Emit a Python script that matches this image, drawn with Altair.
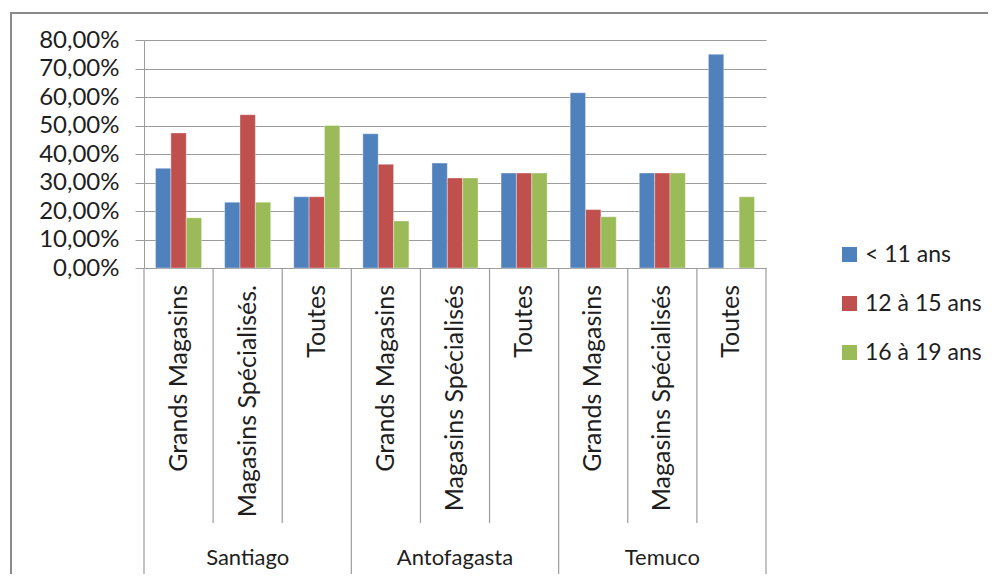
import altair as alt
import pandas as pd

groups = ["Santiago", "Antofagasta", "Temuco"]
subs = [
    ["Grands Magasins", "Magasins Spécialisés.", "Toutes"],
    ["Grands Magasins", "Magasins Spécialisés", "Toutes"],
    ["Grands Magasins", "Magasins Spécialisés", "Toutes"],
]
series = ["< 11 ans", "12 à 15 ans", "16 à 19 ans"]
under_11 = [35.0, 23.1, 25.0, 47.1, 36.8, 33.33, 61.5, 33.33, 75.0]
age_12_15 = [47.4, 53.8, 25.0, 36.4, 31.6, 33.33, 20.5, 33.33, 0.0]
age_16_19 = [17.6, 23.1, 50.0, 16.5, 31.6, 33.33, 18.0, 33.33, 25.0]
colors = ["#4F81BD", "#C0504D", "#9BBB59"]
y_ticks = [0, 10, 20, 30, 40, 50, 60, 70, 80]

FONT = "Lato"
GRAY = "#9c9c9c"
TXT = "#1e1e1e"

keys, sub_list, grp_list, pos_list = [], [], [], []
for gi, g in enumerate(groups):
    for si, s in enumerate(subs[gi]):
        keys.append(f"{gi}{si}")
        sub_list.append(s)
        grp_list.append(g)
        pos_list.append(si)

rows = []
for name, vals in zip(series, [under_11, age_12_15, age_16_19]):
    for k, v in zip(keys, vals):
        rows.append({"key": k, "series": name, "value": v})
bars_df = pd.DataFrame(rows)
cats_df = pd.DataFrame({"key": keys, "sub": sub_list, "grp": grp_list, "pos": pos_list})

xscale = alt.Scale(domain=keys, paddingInner=0, paddingOuter=0)

bars = alt.Chart(bars_df).mark_bar(stroke="#ffffff", strokeOpacity=0.45, strokeWidth=0.8).encode(
    x=alt.X("key:N", scale=xscale, axis=None),
    xOffset=alt.XOffset("series:N", sort=series,
                        scale=alt.Scale(domain=series, paddingOuter=0.75, paddingInner=0)),
    y=alt.Y("value:Q", scale=alt.Scale(domain=[0, 80], nice=False),
            axis=alt.Axis(values=y_ticks, title=None,
                          labelExpr="replace(format(datum.value, '.2f'), '.', ',') + '%'",
                          labelFont=FONT, labelFontSize=24, labelColor=TXT,
                          labelPadding=16, tickSize=9, tickColor=GRAY, domainColor=GRAY,
                          gridColor=GRAY, gridWidth=1.2)),
    color=alt.Color("series:N", sort=series,
                    scale=alt.Scale(domain=series, range=colors),
                    legend=alt.Legend(title=None, orient="none", legendX=694, legendY=203,
                                      symbolType="square", symbolSize=225, symbolStrokeWidth=0,
                                      labelFont=FONT, labelFontSize=23, labelColor=TXT,
                                      rowPadding=25, labelOffset=4)),
)

inner_rules = alt.Chart(cats_df).transform_filter("datum.pos > 0").mark_rule(
    color=GRAY, strokeWidth=1.2).encode(
    x=alt.X("key:N", scale=xscale, bandPosition=0),
    y=alt.value(228), y2=alt.value(483))

group_rules = alt.Chart(cats_df).transform_filter("datum.pos == 0").mark_rule(
    color=GRAY, strokeWidth=1.2).encode(
    x=alt.X("key:N", scale=xscale, bandPosition=0),
    y=alt.value(228), y2=alt.value(537))

end_rule = alt.Chart(cats_df).transform_filter(f"datum.key == '{keys[-1]}'").mark_rule(
    color=GRAY, strokeWidth=1.2).encode(
    x=alt.X("key:N", scale=xscale, bandPosition=1),
    y=alt.value(228), y2=alt.value(537))

sub_labels = alt.Chart(cats_df).mark_text(
    angle=270, align="right", baseline="middle", font=FONT, fontSize=25, color=TXT).encode(
    x=alt.X("key:N", scale=xscale), y=alt.value(245), text="sub:N")

group_labels = alt.Chart(cats_df).transform_filter("datum.pos == 1").mark_text(
    align="center", baseline="middle", font=FONT, fontSize=22, color=TXT).encode(
    x=alt.X("key:N", scale=xscale), y=alt.value(518), text="grp:N")

border = alt.Chart(pd.DataFrame({"a": [0]})).mark_rect(
    fill="transparent", stroke="#8a8a8a", strokeWidth=2).encode(
    x=alt.value(-133), x2=alt.value(950), y=alt.value(-27), y2=alt.value(700))

chart = alt.layer(border, bars, inner_rules, group_rules, end_rule, sub_labels, group_labels).properties(
    width=622, height=228,
    autosize=alt.AutoSizeParams(type="none"),
    padding={"left": 136, "top": 32, "right": 222, "bottom": 306},
    background="white",
).configure_view(stroke=None)

chart.save("out.html", embed_options={"renderer": "svg", "actions": False})
